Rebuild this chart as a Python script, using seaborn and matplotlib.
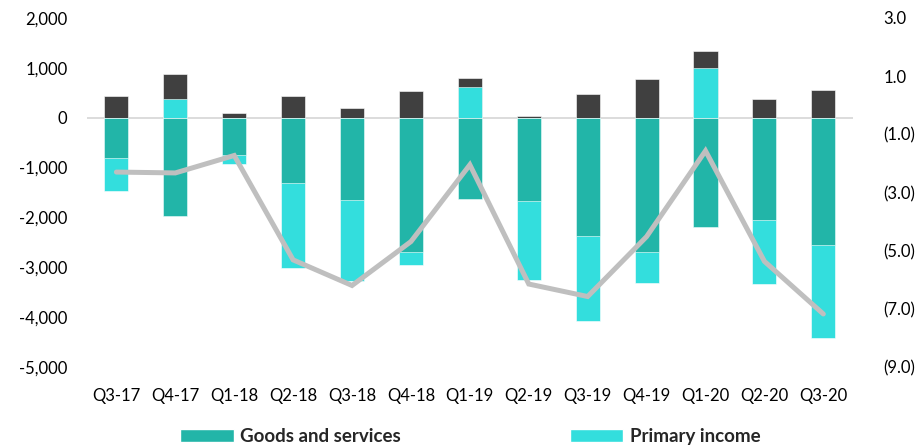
import numpy as np
import pandas as pd
import matplotlib
matplotlib.use("Agg")
import matplotlib.pyplot as plt
import seaborn as sns
from matplotlib.ticker import FuncFormatter, FixedLocator
from matplotlib.patches import Patch

quarters = ["Q3-17", "Q4-17", "Q1-18", "Q2-18", "Q3-18", "Q4-18", "Q1-19",
            "Q2-19", "Q3-19", "Q4-19", "Q1-20", "Q2-20", "Q3-20"]
goods_services = [-800, -1970, -740, -1320, -1650, -2690, -1630,
                  -1665, -2370, -2690, -2200, -2050, -2560]
primary_income = [-680, 375, -190, -1700, -1620, -260, 610,
                  -1600, -1700, -620, 1000, -1290, -1870]
secondary_income = [440, 505, 100, 435, 200, 527, 192,
                    40, 475, 782, 330, 375, 547]
current_account_pct_gdp = [-2.30, -2.33, -1.73, -5.32, -6.20, -4.69, -2.05,
                           -6.15, -6.58, -4.52, -1.57, -5.37, -7.18]

sns.set_theme(style="white")
plt.rcParams['font.family'] = ['Lato', 'DejaVu Sans']

C_GOODS = "#22b5a8"
C_PRIM = "#33dedd"
C_SEC = "#404040"
C_LINE = "#bfbfbf"

df = pd.DataFrame({
    "q": quarters,
    "goods": goods_services,
    "prim": primary_income,
    "sec": secondary_income,
})
# positive stack: primary (if positive) then secondary
df["pos_prim"] = df["prim"].clip(lower=0)
df["pos_total"] = df["pos_prim"] + df["sec"]
# negative stack: goods then primary (if negative)
df["neg_total"] = df["goods"] + df["prim"].clip(upper=0)

fig = plt.figure(figsize=(9.15, 4.48), dpi=100)
ax = fig.add_axes([0.095, 0.181, 0.837, 0.779])

bw = 0.41
kw = dict(ax=ax, order=quarters, width=bw, saturation=1, errorbar=None,
          edgecolor="white", linewidth=0.4)
sns.barplot(data=df, x="q", y="pos_total", color=C_SEC, **kw)
sns.barplot(data=df, x="q", y="pos_prim", color=C_PRIM, **kw)
sns.barplot(data=df, x="q", y="neg_total", color=C_PRIM, **kw)
sns.barplot(data=df, x="q", y="goods", color=C_GOODS, **kw)

ax.axhline(0, color="#d9d9d9", lw=1.3, zorder=0.5)
ax.set_xlim(-0.5, len(quarters) - 0.5)
ax.set_ylim(-5000, 2000)
ax.yaxis.set_major_locator(FixedLocator(np.arange(-5000, 2001, 1000)))
ax.yaxis.set_major_formatter(FuncFormatter(lambda v, p: f"{int(v):,}"))
ax.set_xlabel("")
ax.set_ylabel("")
for s in ax.spines.values():
    s.set_visible(False)
ax.tick_params(axis="y", length=0, pad=14, labelsize=12, colors="black")
ax.tick_params(axis="x", length=0, pad=15, labelsize=12, colors="black")

ax2 = ax.twinx()
ax2.set_position(ax.get_position())
ldf = pd.DataFrame({"x": np.arange(len(quarters)), "v": current_account_pct_gdp})
sns.lineplot(data=ldf, x="x", y="v", ax=ax2, color=C_LINE, lw=3.6,
             sort=False, solid_capstyle="round", solid_joinstyle="miter")
ax2.set_ylim(-9, 3)
ax2.set_xlim(-0.5, len(quarters) - 0.5)
ax2.yaxis.set_major_locator(FixedLocator(np.arange(-9, 3.1, 2)))
ax2.yaxis.set_major_formatter(FuncFormatter(
    lambda v, p: f"{v:.1f}" if v >= 0 else f"({abs(v):.1f})"))
ax2.set_xlabel("")
ax2.set_ylabel("")
for s in ax2.spines.values():
    s.set_visible(False)
ax2.tick_params(axis="y", length=0, pad=22, labelsize=12, colors="black")
ax2.grid(False)
ax.grid(False)

handles = [Patch(facecolor=C_GOODS, label="Goods and services"),
           Patch(facecolor=C_PRIM, label="Primary income")]
fig.legend(handles=handles, loc="center", bbox_to_anchor=(0.514, 0.025),
           ncol=2, frameon=False, handlelength=2.85, handleheight=0.65,
           handletextpad=0.35, columnspacing=9.0,
           prop={"weight": "bold", "size": 13.5})

fig.savefig("out.png", dpi=100)
